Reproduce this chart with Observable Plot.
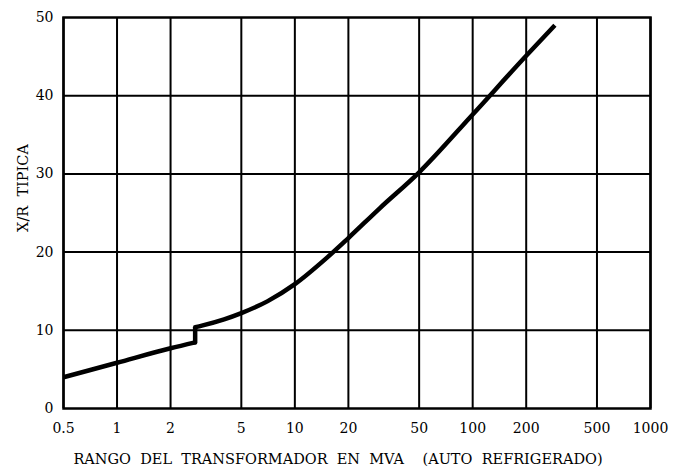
<!DOCTYPE html>
<html>
<head>
<meta charset="utf-8">
<script src="https://cdn.jsdelivr.net/npm/d3@7"></script>
<script src="https://cdn.jsdelivr.net/npm/@observablehq/plot@0.6"></script>
<style>
  html, body { margin: 0; padding: 0; background: #fff; }
</style>
</head>
<body>
<div id="chart"></div>
<script>
// Tick values
const xTicks = [0.5, 1, 2, 5, 10, 20, 50, 100, 200, 500, 1000];
const yTicks = [0, 10, 20, 30, 40, 50];
const yGrid = [10, 20, 30, 40];

// Curve below the step (small transformers)
const xLow = [0.5, 1, 2, 2.75];
const yLow = [4.0, 5.85, 7.7, 8.45];

// Curve above the step
const xHigh = [2.75, 3, 4, 5, 7, 10, 15, 20, 30, 50, 100, 200, 290];
const yHigh = [10.4, 10.6, 11.4, 12.2, 13.7, 15.9, 19.2, 21.8, 25.6, 30.2, 37.6, 45.1, 49];

const xLabel = "RANGO\u00A0\u00A0DEL\u00A0\u00A0TRANSFORMADOR\u00A0\u00A0EN\u00A0\u00A0MVA\u00A0\u00A0\u00A0\u00A0(AUTO\u00A0\u00A0REFRIGERADO)";
const yLabel = "X/R\u00A0\u00A0TIPICA";

const low = xLow.map((x, i) => ({x, y: yLow[i]}));
const high = xHigh.map((x, i) => ({x, y: yHigh[i]}));
const step = [low[low.length - 1], high[0]];

const chart = Plot.plot({
  width: 679,
  height: 468,
  marginLeft: 63,
  marginRight: 29,
  marginTop: 17,
  marginBottom: 60,
  style: {fontFamily: "DejaVu Serif", fontSize: "14px", color: "black", background: "white"},
  x: {type: "log", domain: [0.5, 1000], axis: null},
  y: {domain: [0, 50]},
  marks: [
    Plot.gridX(xTicks, {stroke: "black", strokeOpacity: 1, strokeWidth: 2}),
    Plot.gridY(yGrid, {stroke: "black", strokeOpacity: 1, strokeWidth: 2}),
    Plot.frame({stroke: "black", strokeWidth: 2.5}),
    Plot.text(xTicks, {x: d => d, text: d => String(d), frameAnchor: "bottom", textAnchor: "middle", lineAnchor: "top", dy: 15, fontSize: 14, fill: "black"}),
    Plot.axisY(yTicks, {tickSize: 0, tickPadding: 10, fontSize: 14, label: null}),
    Plot.line(low, {x: "x", y: "y", stroke: "black", strokeWidth: 4.5, curve: "monotone-x", strokeLinejoin: "round", strokeLinecap: "butt"}),
    Plot.line(step, {x: "x", y: "y", stroke: "black", strokeWidth: 4.5, strokeLinejoin: "round", strokeLinecap: "round"}),
    Plot.line(high, {x: "x", y: "y", stroke: "black", strokeWidth: 4.5, curve: "monotone-x", strokeLinejoin: "round", strokeLinecap: "butt"}),
    Plot.text([xLabel], {frameAnchor: "bottom", textAnchor: "middle", lineAnchor: "middle", dx: -19, dy: 51, fontSize: 14.5, fill: "black"}),
    Plot.text([yLabel], {frameAnchor: "left", textAnchor: "middle", lineAnchor: "middle", rotate: -90, dx: -40.5, dy: -25, fontSize: 14.5, fill: "black"})
  ]
});
document.getElementById("chart").appendChild(chart);
</script>
</body>
</html>
